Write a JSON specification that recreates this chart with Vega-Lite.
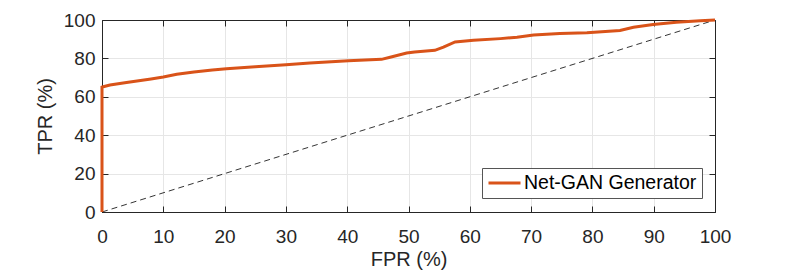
{
  "$schema": "https://vega.github.io/schema/vega-lite/v6.json",
  "width": 613,
  "height": 192,
  "autosize": {"type": "none"},
  "padding": {"left": 102, "top": 20, "right": 74, "bottom": 63},
  "background": "white",
  "config": {
    "font": "Liberation Sans",
    "view": {"stroke": null},
    "axis": {
      "labelFont": "Liberation Sans",
      "labelFontSize": 19,
      "labelColor": "#262626",
      "labelFlush": false,
      "labelOverlap": false,
      "titleFont": "Liberation Sans",
      "titleFontSize": 20,
      "titleFontWeight": "normal",
      "titleColor": "#262626",
      "domainColor": "#262626",
      "domainWidth": 1,
      "tickColor": "#262626",
      "tickSize": -6,
      "gridColor": "#e6e6e6",
      "gridWidth": 1
    },
    "legend": {
      "labelFont": "Liberation Sans",
      "labelFontSize": 19.5,
      "labelColor": "#000000",
      "labelLimit": 400
    }
  },
  "datasets": {
    "roc": [
      {"i": 0, "fpr": 0, "tpr": 0, "series": "Net-GAN Generator"},
      {"i": 1, "fpr": 0, "tpr": 65, "series": "Net-GAN Generator"},
      {"i": 2, "fpr": 0.2, "tpr": 65.2, "series": "Net-GAN Generator"},
      {"i": 3, "fpr": 1.3, "tpr": 66.1, "series": "Net-GAN Generator"},
      {"i": 4, "fpr": 4, "tpr": 67.5, "series": "Net-GAN Generator"},
      {"i": 5, "fpr": 8, "tpr": 69.3, "series": "Net-GAN Generator"},
      {"i": 6, "fpr": 10, "tpr": 70.3, "series": "Net-GAN Generator"},
      {"i": 7, "fpr": 12.2, "tpr": 71.7, "series": "Net-GAN Generator"},
      {"i": 8, "fpr": 15, "tpr": 72.9, "series": "Net-GAN Generator"},
      {"i": 9, "fpr": 18, "tpr": 73.9, "series": "Net-GAN Generator"},
      {"i": 10, "fpr": 20.3, "tpr": 74.6, "series": "Net-GAN Generator"},
      {"i": 11, "fpr": 25, "tpr": 75.6, "series": "Net-GAN Generator"},
      {"i": 12, "fpr": 30, "tpr": 76.7, "series": "Net-GAN Generator"},
      {"i": 13, "fpr": 33.9, "tpr": 77.6, "series": "Net-GAN Generator"},
      {"i": 14, "fpr": 40.2, "tpr": 78.8, "series": "Net-GAN Generator"},
      {"i": 15, "fpr": 45.6, "tpr": 79.5, "series": "Net-GAN Generator"},
      {"i": 16, "fpr": 47, "tpr": 80.6, "series": "Net-GAN Generator"},
      {"i": 17, "fpr": 49.7, "tpr": 82.8, "series": "Net-GAN Generator"},
      {"i": 18, "fpr": 51, "tpr": 83.3, "series": "Net-GAN Generator"},
      {"i": 19, "fpr": 54.3, "tpr": 84.2, "series": "Net-GAN Generator"},
      {"i": 20, "fpr": 55.7, "tpr": 85.9, "series": "Net-GAN Generator"},
      {"i": 21, "fpr": 57.6, "tpr": 88.6, "series": "Net-GAN Generator"},
      {"i": 22, "fpr": 60.6, "tpr": 89.4, "series": "Net-GAN Generator"},
      {"i": 23, "fpr": 65, "tpr": 90.3, "series": "Net-GAN Generator"},
      {"i": 24, "fpr": 67.7, "tpr": 91, "series": "Net-GAN Generator"},
      {"i": 25, "fpr": 70.4, "tpr": 92.2, "series": "Net-GAN Generator"},
      {"i": 26, "fpr": 74.7, "tpr": 93, "series": "Net-GAN Generator"},
      {"i": 27, "fpr": 79.1, "tpr": 93.4, "series": "Net-GAN Generator"},
      {"i": 28, "fpr": 84.5, "tpr": 94.5, "series": "Net-GAN Generator"},
      {"i": 29, "fpr": 86.7, "tpr": 96.2, "series": "Net-GAN Generator"},
      {"i": 30, "fpr": 89.9, "tpr": 97.6, "series": "Net-GAN Generator"},
      {"i": 31, "fpr": 93.7, "tpr": 98.8, "series": "Net-GAN Generator"},
      {"i": 32, "fpr": 97.6, "tpr": 99.6, "series": "Net-GAN Generator"},
      {"i": 33, "fpr": 100, "tpr": 100, "series": "Net-GAN Generator"}
    ],
    "diag": [
      {"fpr": 0, "tpr": 0},
      {"fpr": 100, "tpr": 100}
    ]
  },
  "resolve": {"axis": {"x": "independent", "y": "independent"}},
  "layer": [
    {
      "data": {"name": "diag"},
      "mark": {"type": "line", "color": "#000000", "strokeWidth": 0.8, "strokeDash": [6, 4]},
      "encoding": {
        "x": {
          "field": "fpr", "type": "quantitative",
          "scale": {"domain": [0, 100], "nice": false},
          "axis": {"orient": "bottom", "title": "FPR (%)", "values": [0,10,20,30,40,50,60,70,80,90,100], "labelPadding": 21, "titlePadding": 3, "grid": true}
        },
        "y": {
          "field": "tpr", "type": "quantitative",
          "scale": {"domain": [0, 100], "nice": false},
          "axis": {"orient": "left", "title": "TPR (%)", "values": [0,20,40,60,80,100], "labelPadding": 13, "titlePadding": 8, "grid": true}
        }
      }
    },
    {
      "data": {"name": "diag"},
      "mark": {"type": "point", "opacity": 0},
      "encoding": {
        "x": {
          "field": "fpr", "type": "quantitative",
          "axis": {"orient": "top", "title": null, "labels": false, "grid": false, "values": [0,10,20,30,40,50,60,70,80,90,100]}
        },
        "y": {
          "field": "tpr", "type": "quantitative",
          "axis": {"orient": "right", "title": null, "labels": false, "grid": false, "values": [0,20,40,60,80,100]}
        }
      }
    },
    {
      "data": {"name": "roc"},
      "mark": {"type": "line", "strokeWidth": 3, "clip": false},
      "encoding": {
        "x": {"field": "fpr", "type": "quantitative", "axis": null},
        "y": {"field": "tpr", "type": "quantitative", "axis": null},
        "order": {"field": "i", "type": "quantitative"},
        "color": {
          "field": "series", "type": "nominal",
          "scale": {"range": ["#D95319"]},
          "legend": {
            "title": null,
            "orient": "none",
            "legendX": 380,
            "legendY": 148,
            "symbolType": "stroke",
            "symbolSize": 1024,
            "symbolStrokeWidth": 3,
            "clipHeight": 20,
            "labelOffset": 2,
            "padding": 5,
            "strokeColor": "#555555",
            "fillColor": "#ffffff"
          }
        }
      }
    }
  ]
}
